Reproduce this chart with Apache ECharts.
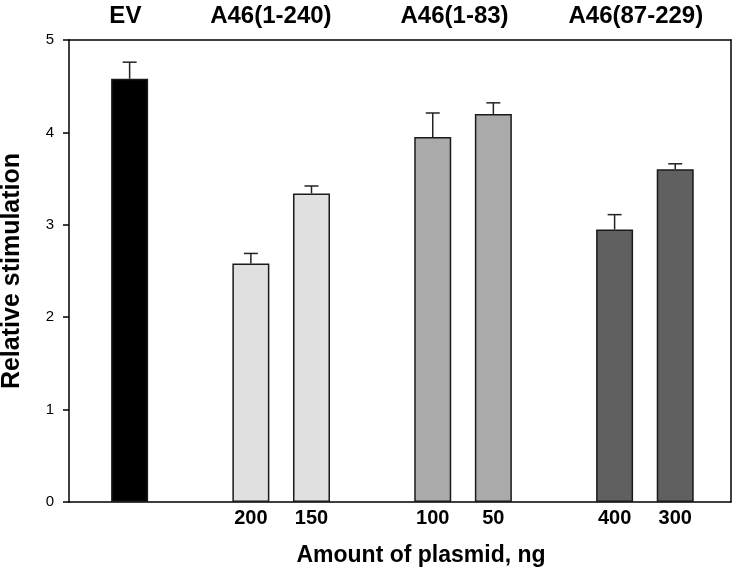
<!DOCTYPE html>
<html>
<head>
<meta charset="utf-8">
<script src="https://cdn.jsdelivr.net/npm/echarts@6/dist/echarts.min.js"></script>
<style>html,body{margin:0;padding:0;background:#fff;}#c{width:735px;height:567px;}</style>
</head>
<body>
<div id="c"></div>
<script>
// Data
var barPositions = [0, 2, 3, 5, 6, 8, 9];
var barValues = [4.58, 2.58, 3.34, 3.95, 4.20, 2.95, 3.60];
var barErrors = [0.18, 0.11, 0.08, 0.26, 0.12, 0.16, 0.06];
var amountLabels = ['', '200', '150', '100', '50', '400', '300'];
var barGroup = [0, 1, 1, 2, 2, 3, 3];
var groupNames = ['EV', 'A46(1-240)', 'A46(1-83)', 'A46(87-229)'];
var groupLabelPositions = [-0.07, 2.33, 5.36, 8.35];
var groupColors = ['#000000', '#e0e0e0', '#aaaaaa', '#606060'];
var yTicks = [0, 1, 2, 3, 4, 5];

var FONT = 'Liberation Sans, Arial, sans-serif';
var chart = echarts.init(document.getElementById('c'), null, {renderer: 'canvas'});

var barData = barPositions.map(function (p, i) {
  return {value: [p, barValues[i]], itemStyle: {color: groupColors[barGroup[i]]}};
});
var errData = barPositions.map(function (p, i) {
  return [p, barValues[i], barValues[i] + barErrors[i]];
});

var option = {
  animation: false,
  backgroundColor: '#fff',
  grid: {left: 69, right: 4, top: 40, bottom: 65, containLabel: false, outerBoundsMode: 'none'},
  xAxis: [{
    type: 'value', position: 'bottom', min: -1, max: 9.92, interval: 1,
    splitLine: {show: false},
    axisLine: {show: true, onZero: false, lineStyle: {color: '#000', width: 1.5}},
    axisTick: {show: false},
    axisLabel: {
      show: true, margin: 6, color: '#000', fontSize: 20, fontWeight: 'bold', fontFamily: FONT,
      showMinLabel: true, showMaxLabel: true,
      formatter: function (v) {
        var idx = barPositions.indexOf(Math.round(v * 100) / 100);
        return idx >= 0 ? amountLabels[idx] : '';
      }
    },
    name: 'Amount of plasmid, ng', nameLocation: 'middle', nameGap: 42,
    nameTextStyle: {color: '#000', fontSize: 23, fontWeight: 'bold', fontFamily: FONT, padding: [0, 0, 0, 42]}
  }, {
    type: 'value', position: 'top', min: -1, max: 9.92,
    splitLine: {show: false},
    axisLine: {show: true, onZero: false, lineStyle: {color: '#000', width: 1.5}},
    axisTick: {show: false},
    axisLabel: {
      show: true, margin: 12, color: '#000', fontSize: 24, fontWeight: 'bold', fontFamily: FONT,
      customValues: groupLabelPositions,
      formatter: function (v) {
        var idx = -1;
        for (var i = 0; i < groupLabelPositions.length; i++) {
          if (Math.abs(groupLabelPositions[i] - v) < 1e-6) idx = i;
        }
        return idx >= 0 ? groupNames[idx] : '';
      }
    }
  }],
  yAxis: [{
    type: 'value', position: 'left', min: yTicks[0], max: yTicks[yTicks.length - 1], interval: 1,
    splitLine: {show: false},
    axisLine: {show: true, onZero: false, lineStyle: {color: '#000', width: 1.5}},
    axisTick: {show: true, inside: false, length: 6, lineStyle: {color: '#000', width: 1.5}},
    axisLabel: {color: '#000', fontSize: 15, margin: 15, fontFamily: FONT},
    name: 'Relative stimulation', nameLocation: 'middle', nameGap: 44,
    nameTextStyle: {color: '#000', fontSize: 25, fontWeight: 'bold', fontFamily: FONT}
  }, {
    type: 'value', position: 'right', min: 0, max: 5,
    splitLine: {show: false},
    axisLine: {show: true, onZero: false, lineStyle: {color: '#000', width: 1.5}},
    axisTick: {show: false}, axisLabel: {show: false}
  }],
  series: [{
    type: 'bar', xAxisIndex: 0, yAxisIndex: 0, barWidth: 37,
    itemStyle: {borderColor: '#1a1a1a', borderWidth: 1.5},
    data: barData
  }, {
    type: 'custom', xAxisIndex: 0, yAxisIndex: 0, z: 1,
    renderItem: function (params, api) {
      var x = api.value(0);
      var top = api.coord([x, api.value(1)]);
      var hi = api.coord([x, api.value(2)]);
      var style = {stroke: '#222', lineWidth: 1.5};
      return {
        type: 'group',
        children: [
          {type: 'line', shape: {x1: top[0], y1: top[1], x2: hi[0], y2: hi[1]}, style: style},
          {type: 'line', shape: {x1: hi[0] - 7, y1: hi[1], x2: hi[0] + 7, y2: hi[1]}, style: style}
        ]
      };
    },
    data: errData
  }]
};
chart.setOption(option);
</script>
</body>
</html>
